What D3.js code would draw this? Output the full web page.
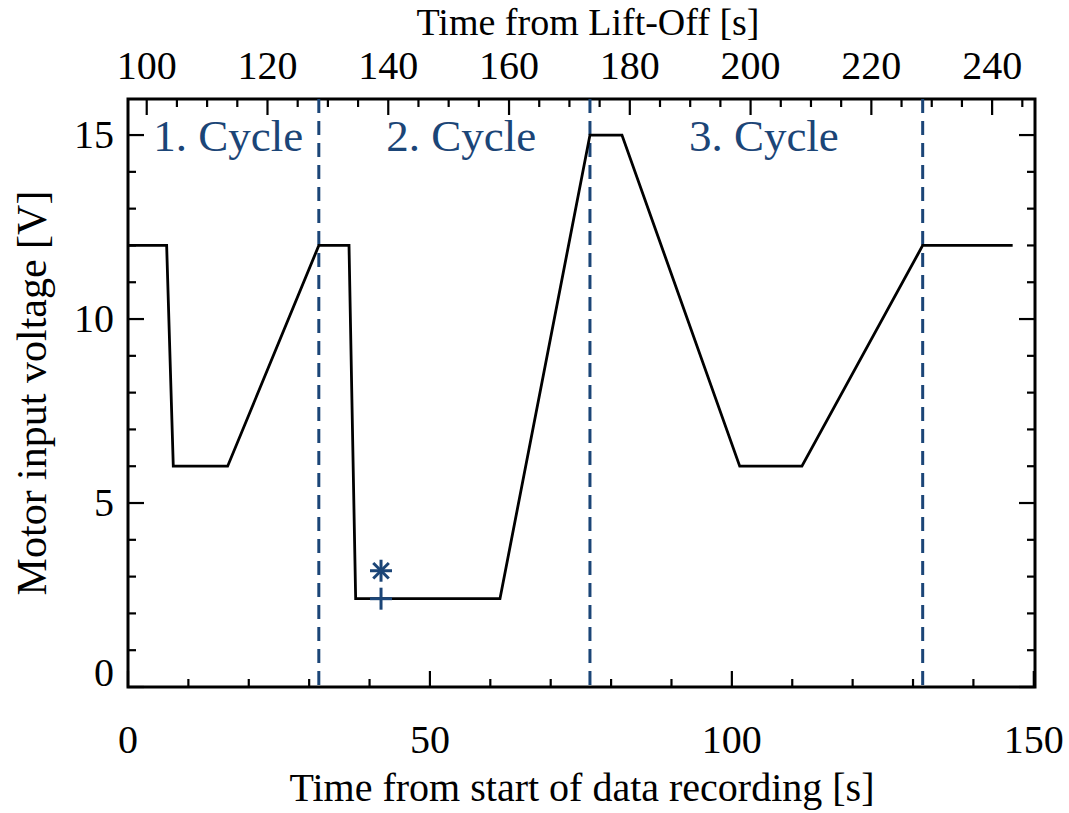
<!DOCTYPE html>
<html><head><meta charset="utf-8">
<script src="https://cdn.jsdelivr.net/npm/d3@7"></script>
<style>body{margin:0;background:#fff}svg text{font-family:"Liberation Serif","Times New Roman",serif}</style>
</head><body>
<svg id="c" width="1069" height="813"></svg>
<script>
// Data (time from start of data recording [s], voltage [V])
const timeS = [0, 6.4, 7.5, 16.5, 31.6, 36.6, 37.7, 61.6, 76.5, 81.8, 101.3, 111.6, 131.6, 146.5];
const voltage = [12, 12, 6, 6, 12, 12, 2.4, 2.4, 15, 15, 6, 6, 12, 12];
const cycleBounds = [31.6, 76.5, 131.6];
const cycleLabels = ["1. Cycle", "2. Cycle", "3. Cycle"];
const cycleLabelX = [16.6, 55.2, 105.3];
const starPoint = [41.9, 3.16];
const plusPoint = [41.9, 2.4];
const liftOffOffset = 96.9;
const bottomTicks = [0, 50, 100, 150];
const topTicks = [100, 120, 140, 160, 180, 200, 220, 240];
const yTicks = [0, 5, 10, 15];

const svg = d3.select("#c");
const L = 128, R = 1035, T = 99, B = 687;
const x = d3.scaleLinear().domain([0, 150.2]).range([L, R]);
const xTop = d3.scaleLinear().domain([liftOffOffset, liftOffOffset + 150.2]).range([L, R]);
const y = d3.scaleLinear().domain([0, 15.98]).range([B, T]);
const navy = "#1b4577";
const fs = 40;

// frame
svg.append("rect").attr("x", L).attr("y", T).attr("width", R - L).attr("height", B - T)
  .attr("fill", "none").attr("stroke", "#000").attr("stroke-width", 3);

// ticks (inward)
const g = svg.append("g").attr("stroke", "#000").attr("stroke-width", 2.2);
d3.range(0, 151, 10).forEach(v => {
  const len = v % 50 === 0 ? 16 : 8;
  g.append("line").attr("x1", x(v)).attr("x2", x(v)).attr("y1", B).attr("y2", B - len);
});
d3.range(100, 247, 5).forEach(v => {
  const len = v % 20 === 0 ? 16 : 8;
  g.append("line").attr("x1", xTop(v)).attr("x2", xTop(v)).attr("y1", T).attr("y2", T + len);
});
d3.range(0, 16, 1).forEach(v => {
  const len = v % 5 === 0 ? 16 : 8;
  g.append("line").attr("x1", L).attr("x2", L + len).attr("y1", y(v)).attr("y2", y(v));
  g.append("line").attr("x1", R).attr("x2", R - len).attr("y1", y(v)).attr("y2", y(v));
});

// tick labels
bottomTicks.forEach(v => svg.append("text").attr("x", x(v)).attr("y", 753)
  .attr("text-anchor", "middle").attr("font-size", fs).text(v));
topTicks.forEach(v => svg.append("text").attr("x", xTop(v)).attr("y", 79)
  .attr("text-anchor", "middle").attr("font-size", fs).text(v));
yTicks.forEach(v => svg.append("text").attr("x", 114).attr("y", v === 0 ? y(v) - 1 : y(v) + 13)
  .attr("text-anchor", "end").attr("font-size", fs).text(v));

// axis titles
svg.append("text").attr("x", 582).attr("y", 801).attr("text-anchor", "middle")
  .attr("font-size", fs).text("Time from start of data recording [s]");
svg.append("text").attr("x", 588).attr("y", 35).attr("text-anchor", "middle")
  .attr("font-size", 38).text("Time from Lift-Off [s]");
svg.append("text").attr("transform", `translate(46,${(T + B) / 2}) rotate(-90)`)
  .attr("text-anchor", "middle").attr("font-size", 42).text("Motor input voltage [V]");

// cycle boundaries
cycleBounds.forEach(v => svg.append("line").attr("x1", x(v)).attr("x2", x(v)).attr("y1", T).attr("y2", B)
  .attr("stroke", navy).attr("stroke-width", 3).attr("stroke-dasharray", "14,8"));
cycleLabels.forEach((t, i) => svg.append("text").attr("x", x(cycleLabelX[i])).attr("y", 151)
  .attr("text-anchor", "middle").attr("font-size", 45).attr("fill", navy).text(t));

// data line
const pts = timeS.map((t, i) => [t, voltage[i]]);
svg.append("path").datum(pts)
  .attr("d", d3.line().x(d => x(d[0])).y(d => y(d[1])))
  .attr("fill", "none").attr("stroke", "#000").attr("stroke-width", 2.8);

// markers
const sx = x(starPoint[0]), sy = y(starPoint[1]), r = 11;
const star = svg.append("g").attr("stroke", navy).attr("stroke-width", 3);
[0, 45, 90, 135].forEach(a => {
  const rad = a * Math.PI / 180;
  star.append("line").attr("x1", sx - r * Math.sin(rad)).attr("y1", sy - r * Math.cos(rad))
    .attr("x2", sx + r * Math.sin(rad)).attr("y2", sy + r * Math.cos(rad));
});
const px = x(plusPoint[0]), py = y(plusPoint[1]);
star.append("line").attr("x1", px).attr("x2", px).attr("y1", py - 11).attr("y2", py + 11);
star.append("line").attr("x1", px - 11).attr("x2", px + 11).attr("y1", py).attr("y2", py);
</script>
</body></html>
